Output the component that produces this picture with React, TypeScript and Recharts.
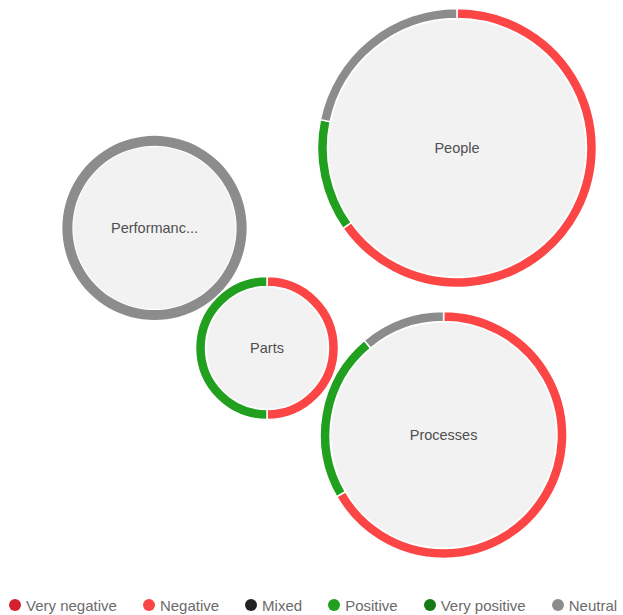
import { ScatterChart, Scatter, XAxis, YAxis, ZAxis, Legend, Sector } from "recharts";

// bubbles (packed layout, positions in % of the plot area)
const topics = ["People", "Processes", "Performance", "Parts"];
const posX = [73.35, 71.2, 24.8, 42.86];
const posY = [25.3, 74.36, 38.97, 59.49];

// mention counts per sentiment, same order as topics
const veryNegative = [0, 0, 0, 0];
const negative = [15, 12, 0, 3];
const mixed = [0, 0, 0, 0];
const positive = [3, 4, 0, 3];
const veryPositive = [0, 0, 0, 0];
const neutral = [5, 2, 10, 0];

const sentiments = ["Very negative", "Negative", "Mixed", "Positive", "Very positive", "Neutral"];
const sentimentColors = ["#d5202f", "#fc4545", "#222222", "#21a01f", "#137a14", "#8c8c8c"];
const series = [veryNegative, negative, mixed, positive, veryPositive, neutral];

const RING = 10;
const FONT = "'Liberation Sans', Arial, sans-serif";

const data = topics.map((name, i) => {
  const counts = series.map((s) => s[i]);
  return {
    name,
    x: posX[i],
    y: posY[i],
    counts,
    total: counts.reduce((a, b) => a + b, 0),
  };
});

function truncate(str: string, max: number) {
  return str.length > max ? str.slice(0, max) + "..." : str;
}

function Bubble(props: any) {
  const { cx, cy, width, size, payload } = props;
  const r = width ? width / 2 : Math.sqrt(size / Math.PI);
  const total = payload.total;
  const parts = payload.counts
    .map((c: number, k: number) => ({ c, k }))
    .filter((p: any) => p.c > 0);
  const multi = parts.length > 1;
  let acc = 0;
  return (
    <g>
      <circle cx={cx} cy={cy} r={r - RING - 1} fill="#f2f2f2" />
      {parts.map((p: any) => {
        const start = 90 - (acc / total) * 360;
        acc += p.c;
        const end = 90 - (acc / total) * 360;
        return (
          <Sector
            key={p.k}
            cx={cx}
            cy={cy}
            innerRadius={r - RING}
            outerRadius={r}
            startAngle={start}
            endAngle={end}
            fill={sentimentColors[p.k]}
            stroke={multi ? "#fff" : "none"}
            strokeWidth={multi ? 1.5 : 0}
          />
        );
      })}
      <text
        x={cx}
        y={cy}
        textAnchor="middle"
        dominantBaseline="central"
        fontSize={14.5}
        fontFamily={FONT}
        fill="#4f4f4f"
      >
        {truncate(payload.name, 10)}
      </text>
    </g>
  );
}

function LegendRow() {
  return (
    <div
      style={{
        display: "flex",
        alignItems: "center",
        gap: 26,
        height: 30,
        paddingTop: 10,
        paddingLeft: 9,
        boxSizing: "border-box",
        fontFamily: FONT,
        fontSize: 15,
        color: "#6b6b6b",
        whiteSpace: "nowrap",
      }}
    >
      {sentiments.map((s, i) => (
        <div key={s} style={{ display: "flex", alignItems: "center" }}>
          <span
            style={{
              width: 12,
              height: 12,
              borderRadius: 6,
              background: sentimentColors[i],
              marginRight: 5,
              display: "inline-block",
            }}
          />
          {s}
        </div>
      ))}
    </div>
  );
}

export default function App() {
  return (
    <div style={{ position: "absolute", left: 0, top: 0, background: "#fff" }}>
      <ScatterChart width={623} height={615} margin={{ top: 0, right: 0, bottom: 0, left: 0 }}>
        <XAxis type="number" dataKey="x" domain={[0, 100]} hide />
        <YAxis type="number" dataKey="y" domain={[0, 100]} reversed hide />
        <ZAxis type="number" dataKey="total" domain={[6, 23]} range={[16060, 61135]} />
        <Legend verticalAlign="bottom" height={30} content={() => <LegendRow />} />
        <Scatter data={data} shape={Bubble} isAnimationActive={false} />
      </ScatterChart>
    </div>
  );
}
